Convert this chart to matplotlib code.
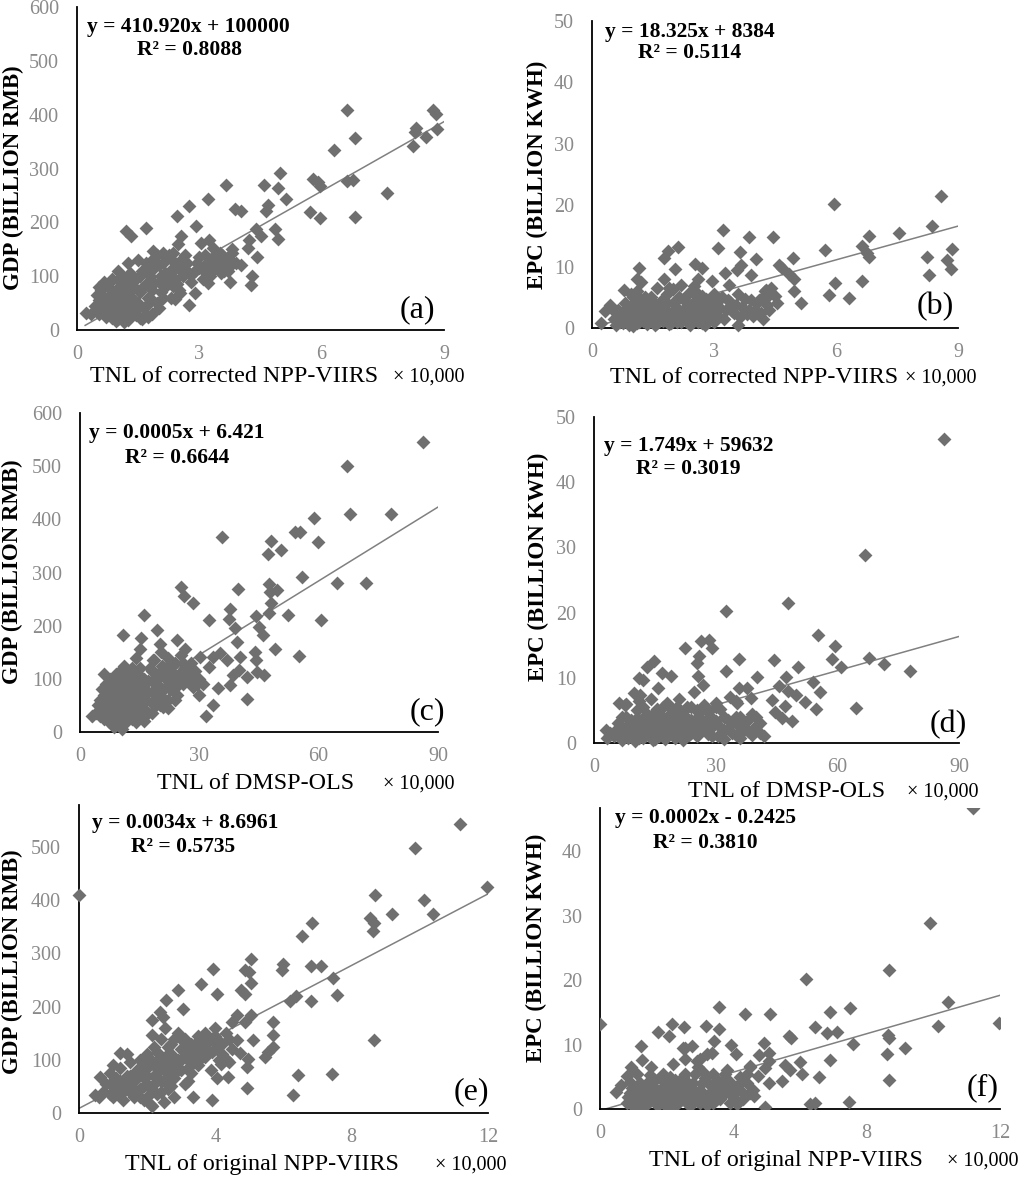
import matplotlib
matplotlib.use("Agg")
import matplotlib.pyplot as plt

W, H = 1024, 1177

plt.rcParams['font.family'] = ['Liberation Serif', 'DejaVu Serif']

# ---- data (x in units of 10,000) ----
a_pts = [(6.63, 409), (8.72, 409), (8.81, 401), (8.84, 374), (8.55, 359), (8.32, 376),
         (8.28, 367), (8.24, 342), (6.81, 356), (6.30, 334), (6.77, 278), (6.61, 277),
         (7.59, 254), (6.81, 210), (5.79, 280), (5.91, 274), (5.97, 267), (5.72, 220),
         (5.95, 208), (4.97, 291), (4.93, 263), (5.12, 243), (4.58, 269), (4.69, 233),
         (4.63, 221), (4.40, 187), (4.52, 174), (4.86, 187), (4.93, 169), (4.42, 136),
         (4.28, 100), (4.27, 84), (4.03, 121), (4.19, 152), (4.23, 168), (3.87, 224),
         (4.03, 221), (3.66, 270), (3.21, 243), (2.75, 231), (2.46, 211), (2.93, 194),
         (2.54, 175), (2.48, 159), (1.21, 183), (1.33, 175), (1.68, 190), (2.75, 47),
         (3.21, 87), (3.03, 162), (3.23, 168), (3.74, 90), (3.74, 118), (3.54, 106),
         (3.81, 143), (3.50, 143), (3.34, 131), (3.34, 152), (3.09, 112), (2.85, 106),
         (2.89, 68), (2.52, 68), (2.35, 81), (2.60, 115), (2.35, 143), (2.11, 143),
         (1.86, 146), (0.21, 31), (0.96, 16), (1.54, 22),
         (0.45, 45), (0.5, 65), (0.55, 55), (0.6, 35), (0.6, 75), (0.65, 90), (0.7, 25),
         (0.7, 50), (0.75, 85), (0.8, 40), (0.8, 65), (0.85, 95), (0.9, 30), (0.9, 55),
         (0.95, 75), (1.0, 20), (1.0, 45), (1.0, 110), (1.05, 60), (1.05, 90), (1.1, 35),
         (1.1, 100), (1.15, 15), (1.15, 70), (1.2, 50), (1.2, 85), (1.25, 25), (1.3, 40),
         (1.3, 105), (1.35, 60), (1.4, 80), (1.45, 30), (1.45, 95), (1.5, 50), (1.55, 70),
         (1.6, 20), (1.6, 110), (1.65, 40), (1.7, 85), (1.7, 125), (1.75, 60), (1.8, 100),
         (1.85, 30), (1.85, 75), (1.9, 115), (1.95, 50), (1.95, 140), (2.0, 90), (2.05, 70),
         (2.1, 125), (2.15, 105), (2.2, 85), (2.25, 140), (2.3, 60), (2.3, 110), (2.4, 95),
         (2.45, 120), (2.5, 75), (2.6, 100), (2.7, 125), (2.8, 90), (2.9, 110), (3.0, 135),
         (3.1, 95), (3.2, 125), (3.3, 110), (3.4, 140), (3.5, 120), (3.6, 130), (3.7, 110),
         (3.8, 150), (3.9, 125), (1.25, 125), (1.5, 130), (0.35, 30), (1.1, 75), (1.4, 55),
         (0.75, 60), (2.0, 40), (1.7, 45),
         (0.55, 30), (0.85, 22), (1.25, 18), (1.45, 28), (1.75, 25), (1.35, 45), (0.65, 60),
         (0.95, 48), (1.15, 52), (1.55, 45), (1.85, 55), (2.1, 60), (2.4, 58), (0.55, 80),
         (0.85, 72), (1.25, 68), (1.35, 82), (1.6, 78), (1.9, 88), (2.15, 80), (2.45, 85),
         (2.2, 95), (1.15, 95), (1.35, 92), (1.55, 100), (1.75, 108), (2.05, 100), (2.35, 115),
         (2.55, 110), (2.75, 105), (1.85, 130), (2.0, 120), (2.15, 135), (2.35, 128),
         (2.55, 130), (2.65, 140), (2.95, 125), (3.15, 140), (3.3, 130), (3.55, 140),
         (3.75, 130), (3.45, 120), (3.0, 115), (3.25, 100), (3.6, 110)]

b_pts = [(8.57, 21.5), (5.95, 20.2), (8.37, 16.6), (7.55, 15.5), (6.81, 15.0), (6.63, 13.3),
         (8.86, 12.8), (5.73, 12.7), (6.77, 12.2), (6.81, 11.6), (8.24, 11.5), (8.74, 11.0),
         (8.84, 9.6), (8.29, 8.6), (5.97, 7.4), (6.63, 7.6), (5.84, 5.4), (6.33, 4.9),
         (4.95, 11.4), (4.96, 7.9), (4.96, 6.0), (5.15, 4.0), (4.84, 8.8), (4.59, 10.3),
         (4.68, 9.8), (4.45, 14.8), (4.04, 11.2), (4.55, 4.0), (4.27, 6.2), (4.36, 5.4),
         (4.20, 1.5), (4.10, 4.6), (3.87, 14.8), (3.90, 8.7), (3.65, 12.3), (3.67, 10.3),
         (3.57, 9.5), (3.22, 15.9), (3.10, 13.0), (3.26, 8.9), (3.38, 7.0), (2.94, 7.6),
         (3.59, 0.5), (2.79, 0.5), (2.12, 13.2), (1.87, 12.5), (1.76, 11.4), (2.03, 9.6),
         (1.78, 7.9), (2.53, 10.5), (2.71, 9.8), (2.50, 6.8), (1.15, 9.8), (0.78, 6.2),
         (0.45, 3.8), (0.31, 2.7), (0.21, 0.8), (1.11, 7.9),
         (0.55, 1.5), (0.6, 0.5), (0.65, 3), (0.7, 2), (0.75, 0.8), (0.8, 4), (0.85, 1.2),
         (0.9, 2.5), (0.95, 5.5), (1.0, 0.3), (1.0, 3.5), (1.05, 1.8), (1.1, 6), (1.1, 0.8),
         (1.15, 2.8), (1.2, 4.5), (1.25, 1.2), (1.3, 3.2), (1.35, 0.6), (1.4, 2.2), (1.45, 5),
         (1.5, 1.5), (1.55, 3.8), (1.6, 0.8), (1.65, 2.6), (1.7, 4.4), (1.75, 1.2), (1.8, 3),
         (1.85, 5.6), (1.9, 0.6), (1.95, 2), (2.0, 4), (2.05, 1.5), (2.1, 3.2), (2.15, 5),
         (2.2, 0.9), (2.25, 2.4), (2.3, 4.2), (2.35, 1.4), (2.4, 3), (2.45, 6), (2.5, 2),
         (2.55, 4.5), (2.6, 1), (2.65, 3.5), (2.7, 5.2), (2.75, 2.2), (2.8, 3.8), (2.85, 1.2),
         (2.9, 4.8), (2.95, 2.8), (3.05, 4), (3.1, 2), (3.2, 5), (3.3, 3), (3.4, 4.2),
         (3.5, 2.5), (3.6, 5.5), (3.7, 3.5), (3.8, 2.2), (3.9, 4.5), (4.0, 3), (4.2, 5),
         (4.3, 3.8), (4.4, 6.5), (1.2, 7.5), (1.6, 6.5), (2.2, 7), (2.6, 8), (1.0, 5),
         (1.3, 2), (1.7, 2), (2.1, 1), (2.3, 2.8), (2.7, 0.8), (1.5, 4.2), (0.9, 1), (2.0, 6.3),
         (0.6, 2.5), (0.7, 1), (0.8, 3), (0.9, 0.5), (1.0, 2), (1.05, 4.2), (1.15, 1), (1.2, 3),
         (1.3, 5), (1.4, 1.5), (1.45, 3.5), (1.55, 0.5), (1.6, 2), (1.7, 3.2), (1.8, 1.5),
         (1.85, 4), (1.95, 0.8), (2.0, 2.8), (2.1, 4.5), (2.2, 1.8), (2.3, 3.5), (2.4, 0.5),
         (2.45, 2.2), (2.5, 4), (2.6, 5.5), (2.65, 2.5), (2.75, 1.5), (2.8, 4.8), (2.9, 2),
         (3.0, 1), (3.0, 5.5), (3.15, 3.2), (3.25, 1.5), (3.35, 4.5), (3.45, 2.8), (3.55, 3.8),
         (3.65, 1.8), (3.75, 4.8), (3.85, 3), (3.95, 2), (4.05, 4), (4.15, 2.5), (4.25, 6),
         (4.35, 3), (4.5, 5.2), (1.9, 6.5), (2.35, 5.5), (1.25, 4)]

c_pts = [(86.3, 546), (67.0, 501), (67.8, 410), (78.1, 410), (58.8, 402), (54.0, 377),
         (55.3, 377), (59.9, 357), (35.6, 366), (47.9, 360), (47.3, 335), (50.5, 342),
         (55.7, 291), (64.7, 281), (71.8, 280), (47.6, 278), (49.4, 268), (47.7, 264),
         (48.1, 243), (47.6, 223), (52.3, 221), (60.6, 210), (55.1, 143), (49.0, 157),
         (39.8, 269), (25.5, 272), (26.2, 256), (28.5, 242), (37.7, 232), (37.5, 212),
         (32.5, 210), (44.2, 218), (38.9, 195), (45.1, 197), (46.1, 182), (46.2, 107),
         (44.4, 113), (44.0, 151), (44.2, 135), (39.4, 170), (40.2, 141), (41.9, 104),
         (40.0, 116), (38.5, 107), (42.0, 63), (37.7, 88), (34.8, 82), (33.5, 50),
         (31.7, 31), (30.0, 69), (36.9, 135), (35.2, 148), (33.5, 141), (32.5, 122),
         (30.2, 141), (31.0, 91), (29.3, 91), (16.1, 221), (10.7, 182), (19.4, 192),
         (15.3, 176), (15.1, 157), (20.1, 166), (20.3, 151), (18.4, 135), (24.3, 173),
         (26.4, 157), (20.9, 47), (2.9, 31), (14.2, 19), (9.9, 14),
         (4, 35), (5, 60), (5.5, 80), (6, 25), (6.5, 45), (7, 70), (7.5, 100), (8, 30),
         (8, 55), (8.5, 85), (9, 110), (9, 20), (9.5, 65), (10, 40), (10, 95), (10.5, 75),
         (11, 15), (11, 55), (11.5, 105), (12, 35), (12, 80), (12.5, 60), (13, 120), (13, 25),
         (13.5, 90), (14, 45), (14, 70), (14.5, 110), (15, 30), (15, 85), (15.5, 60),
         (16, 100), (16.5, 40), (17, 75), (17.5, 120), (18, 55), (18, 95), (18.5, 135),
         (19, 70), (19.5, 110), (20, 85), (20.5, 125), (21, 60), (21.5, 100), (22, 140),
         (22.5, 80), (23, 115), (23.5, 95), (24, 130), (24.5, 70), (25, 110), (25.5, 145),
         (26, 90), (26.5, 120), (27, 100), (28, 130), (28.5, 85), (29, 115), (30, 100),
         (7, 90), (9, 45), (12, 100), (16, 20), (18, 35), (20, 50), (22, 45), (24, 60),
         (11, 125), (14, 140), (6, 110), (8.5, 10), (10.5, 5),
         (4.5, 50), (5, 30), (5.5, 45), (6, 70), (6.5, 90), (7, 20), (7, 50), (7.5, 35),
         (7.5, 80), (8, 70), (8.5, 45), (9, 95), (9.5, 30), (9.5, 80), (10, 60), (10, 115),
         (10.5, 25), (10.5, 90), (11, 40), (11, 75), (11.5, 60), (12, 50), (12, 115),
         (12.5, 90), (13, 40), (13, 70), (13.5, 105), (14, 55), (14, 90), (14.5, 30),
         (15, 70), (15, 120), (15.5, 45), (16, 80), (16.5, 60), (17, 95), (17, 35), (18, 75),
         (18, 115), (19, 50), (19, 90), (20, 70), (20, 105), (21, 80), (21, 120), (22, 60),
         (22, 100), (23, 85), (23, 130), (24, 105), (25, 90), (26, 130), (27, 115), (28, 100)]

d_pts = [(86.3, 46.7), (66.8, 28.9), (47.9, 21.5), (32.6, 20.2), (55.3, 16.6), (59.5, 14.9),
         (58.7, 12.9), (60.8, 11.7), (67.9, 13.1), (71.6, 12.1), (77.8, 11.0), (50.2, 11.6),
         (53.9, 9.4), (55.8, 7.8), (52.1, 6.3), (54.8, 5.2), (64.7, 5.4), (47.4, 10.1),
         (49.7, 7.4), (45.6, 8.8), (47.8, 7.9), (44.3, 12.7), (43.9, 6.6), (44.7, 4.8),
         (47.2, 5.6), (48.7, 3.3), (46.4, 3.8), (35.7, 12.9), (40.1, 10.1), (37.7, 8.5),
         (35.7, 8.4), (32.6, 11.1), (33.6, 7.1), (35.3, 6.1), (38.8, 6.9), (41.9, 1.0),
         (29.1, 14.5), (28.3, 15.8), (26.5, 15.6), (22.5, 14.6), (26.0, 13.3), (25.4, 12.2),
         (25.6, 10.3), (26.8, 8.9), (24.6, 7.8), (14.9, 12.6), (13.1, 11.7), (19.1, 10.2),
         (16.8, 10.7), (12.2, 9.7), (11.0, 9.9), (15.8, 8.4), (9.8, 7.7), (11.4, 7.4),
         (6.1, 6.1), (7.7, 5.9), (3.2, 0.8),
         (5, 1), (6, 3), (7, 0.5), (7.5, 2), (8, 4), (9, 1.2), (9.5, 2.8), (10, 0.3),
         (10.5, 5), (11, 1.8), (11.5, 3.5), (12, 0.8), (12.5, 2.4), (13, 4.5), (13.5, 1.2),
         (14, 3), (14.5, 0.4), (15, 2), (15.5, 5.2), (16, 1), (16.5, 3.4), (17, 2.2),
         (17.5, 0.6), (18, 4), (18.5, 1.6), (19, 2.8), (19.5, 5), (20, 0.8), (20.5, 3.2),
         (21, 1.8), (21.5, 4.4), (22, 0.5), (22.5, 2.5), (23, 3.8), (23.5, 1.2), (24, 5.5),
         (24.5, 2.2), (25, 3.6), (25.5, 1), (26, 4.6), (26.5, 2), (27, 3), (28, 1.4),
         (28.5, 4.2), (29, 2.4), (30, 3.4), (30.5, 1), (31, 5.2), (32, 2), (33, 3.5),
         (34, 1.5), (35, 4), (36, 2.5), (37, 3.2), (38, 1.8), (39, 4.5), (40, 2.6), (41, 1.5),
         (32, 0.6), (36, 0.8), (8, 6), (11, 6.5), (14, 6.8), (18, 6.2), (21, 6.8), (27, 5.8),
         (30, 6.2), (35, 6.5), (3, 2), (4, 1.5),
         (5.5, 2), (6.5, 1.5), (7, 4), (8, 2.5), (8.5, 0.8), (9, 3.5), (10, 2), (10.5, 3.8),
         (11, 0.8), (12, 3), (12, 5.5), (13, 2), (13.5, 3.5), (14, 1), (14.5, 4.5), (15, 0.6),
         (15.5, 3), (16, 4.5), (16.5, 1.6), (17, 5.5), (17.5, 3), (18, 1.2), (19, 4),
         (19.5, 1.5), (20, 2.2), (20.5, 5.5), (21, 3.5), (22, 1.5), (22, 4.2), (23, 2.5),
         (23, 5.5), (24, 1.5), (24, 3.5), (25, 2.5), (25.5, 5), (26, 1.5), (26.5, 3.5),
         (27.5, 2), (28, 4.8), (29, 1), (29.5, 3), (30, 5.5), (31, 2.5), (32, 4), (33, 2.2),
         (34, 3), (35, 1.2), (36, 4), (37, 2), (38, 3.5), (39, 1.2), (40, 4), (41, 3)]

e_pts = [(0.0, 409), (11.19, 544), (9.85, 499), (11.97, 425), (10.12, 401), (10.39, 375),
         (9.17, 375), (8.68, 409), (8.55, 367), (8.66, 357), (8.63, 342), (6.85, 357),
         (6.53, 333), (6.82, 276), (7.09, 276), (7.44, 254), (7.58, 222), (5.99, 281),
         (5.97, 268), (6.38, 220), (6.19, 210), (6.80, 210), (8.65, 137), (6.43, 71),
         (7.43, 74), (6.29, 33), (5.06, 290), (4.87, 269), (4.99, 265), (5.06, 244),
         (4.74, 232), (4.87, 223), (5.06, 185), (4.64, 184), (4.48, 171), (4.87, 172),
         (5.68, 171), (5.70, 146), (5.11, 138), (4.64, 138), (5.70, 124), (5.55, 115),
         (5.45, 105), (4.97, 102), (4.72, 112), (4.92, 86), (4.94, 47), (4.38, 68),
         (4.04, 65), (4.33, 100), (4.18, 93), (3.92, 271), (4.06, 223), (3.58, 242),
         (2.91, 232), (2.55, 212), (3.04, 195), (2.37, 190), (2.47, 180), (2.13, 174),
         (2.13, 146), (2.52, 159), (3.89, 24), (3.35, 31), (3.87, 80), (3.99, 159),
         (1.20, 113), (0.62, 68), (0.47, 33), (2.13, 14),
         (0.7, 40), (0.8, 55), (0.9, 75), (1.0, 30), (1.0, 50), (1.1, 65), (1.2, 40),
         (1.2, 85), (1.3, 25), (1.3, 55), (1.4, 70), (1.5, 40), (1.5, 95), (1.6, 30),
         (1.6, 60), (1.7, 80), (1.8, 45), (1.8, 100), (1.9, 25), (1.9, 65), (2.0, 85),
         (2.0, 110), (2.1, 45), (2.1, 15), (2.2, 70), (2.2, 125), (2.3, 35), (2.3, 95),
         (2.4, 60), (2.4, 140), (2.5, 80), (2.5, 20), (2.6, 110), (2.6, 45), (2.7, 90),
         (2.7, 130), (2.8, 65), (2.8, 30), (2.9, 100), (2.9, 150), (3.0, 80), (3.0, 120),
         (3.1, 55), (3.1, 140), (3.2, 100), (3.3, 130), (3.3, 75), (3.4, 115), (3.5, 145),
         (3.5, 90), (3.6, 125), (3.7, 105), (3.7, 150), (3.8, 135), (3.9, 115), (4.0, 145),
         (4.1, 100), (4.2, 130), (4.3, 150), (4.4, 95), (4.5, 120), (1.0, 90), (1.4, 110),
         (0.6, 30), (2.4, 105), (3.2, 60), (2.0, 55), (1.7, 40),
         (0.9, 35), (1.0, 60), (1.1, 45), (1.2, 60), (1.3, 40), (1.4, 55), (1.5, 70),
         (1.6, 45), (1.7, 65), (1.8, 30), (1.8, 75), (1.9, 50), (1.9, 90), (2.0, 70),
         (2.1, 100), (2.2, 55), (2.2, 90), (2.3, 75), (2.3, 115), (2.4, 85), (2.5, 100),
         (2.5, 60), (2.6, 80), (2.6, 125), (2.7, 70), (2.7, 110), (2.8, 95), (2.8, 140),
         (2.9, 80), (3.0, 100), (3.0, 140), (3.1, 115), (3.2, 130), (3.2, 85), (3.3, 110),
         (3.4, 130), (3.4, 95), (3.5, 120), (3.6, 140), (3.6, 105), (3.7, 125), (3.8, 115),
         (3.9, 140), (4.0, 120), (4.1, 135), (4.2, 110), (4.4, 140), (2.0, 30), (2.4, 40),
         (2.7, 50)]

f_pts = [(0.0, 13.2), (11.2, 46.7), (9.9, 28.9), (8.67, 21.6), (6.19, 20.2), (10.43, 16.6),
         (11.97, 13.3), (10.15, 12.9), (7.49, 15.6), (6.91, 15.0), (7.11, 12.0), (6.81, 11.8),
         (6.44, 12.7), (7.60, 10.1), (8.63, 11.5), (8.68, 11.0), (9.15, 9.5), (8.60, 8.6),
         (8.67, 4.5), (6.91, 7.6), (6.56, 5.0), (6.01, 7.3), (6.06, 5.5), (6.46, 0.9),
         (6.31, 0.7), (7.46, 1.1), (5.66, 11.3), (5.74, 11.0), (5.54, 6.9), (5.71, 6.1),
         (5.46, 4.4), (5.11, 14.8), (4.34, 14.8), (4.91, 10.2), (5.06, 8.7), (5.06, 7.4),
         (4.96, 6.4), (4.96, 0.3), (4.74, 5.1), (5.06, 4.0), (4.76, 8.4), (4.51, 6.6),
         (4.61, 2.0), (3.58, 15.8), (3.58, 12.4), (3.19, 12.9), (3.41, 10.6), (3.94, 10.0),
         (4.07, 8.5), (3.36, 8.7), (3.01, 7.8), (2.51, 12.7), (2.15, 13.2), (2.07, 11.3),
         (1.75, 11.9), (2.56, 9.5), (2.76, 9.7), (2.56, 7.8), (1.22, 9.8), (1.27, 7.6),
         (1.52, 6.5), (0.92, 6.5), (0.82, 5.1), (0.62, 3.8), (0.47, 2.7),
         (0.8, 1), (0.9, 2.5), (1.0, 0.5), (1.05, 2), (1.1, 3.5), (1.2, 1), (1.25, 2.8),
         (1.3, 0.3), (1.4, 2), (1.45, 4.2), (1.5, 1.2), (1.6, 3), (1.7, 0.6), (1.75, 2.2),
         (1.8, 4.8), (1.9, 1.5), (1.95, 3.5), (2.0, 0.3), (2.05, 2.5), (2.1, 5), (2.15, 1.2),
         (2.2, 3.2), (2.3, 0.8), (2.35, 2), (2.4, 4.2), (2.5, 1.5), (2.55, 5.5), (2.6, 3),
         (2.7, 0.5), (2.75, 2.2), (2.8, 4), (2.9, 1.2), (2.95, 6.5), (3.0, 3), (3.1, 1.8),
         (3.15, 4.8), (3.2, 0.6), (3.3, 2.5), (3.4, 5.5), (3.5, 1.5), (3.6, 3.8), (3.7, 2.2),
         (3.8, 6), (3.9, 1), (4.0, 3.5), (4.1, 0.8), (4.2, 5), (4.3, 2.5), (4.4, 4),
         (4.5, 6.5), (4.6, 3), (2.2, 7), (2.5, 9.5), (2.9, 7.5), (3.2, 8.5), (1.9, 5.5),
         (1.1, 5.5), (1.5, 5.2), (0.9, 4.2), (2.6, 1), (1.35, 1.6), (3.7, 4.5),
         (0.85, 1.8), (0.95, 3.2), (1.0, 1.2), (1.1, 2.5), (1.15, 0.5), (1.2, 4), (1.3, 1.8),
         (1.35, 3.2), (1.4, 0.8), (1.5, 2.5), (1.55, 3.8), (1.6, 1.5), (1.65, 4.5), (1.7, 2.8),
         (1.8, 1), (1.85, 3.2), (1.9, 2.2), (2.0, 1.5), (2.0, 4), (2.1, 2.8), (2.2, 0.6),
         (2.25, 4.5), (2.3, 2.2), (2.4, 1.2), (2.45, 3.2), (2.5, 5), (2.6, 2), (2.65, 4),
         (2.7, 1.5), (2.8, 3), (2.85, 5.5), (2.9, 2.2), (3.0, 1), (3.05, 4), (3.1, 5.8),
         (3.2, 2), (3.3, 3.8), (3.4, 1), (3.45, 3), (3.5, 4.5), (3.6, 1.5), (3.65, 2.8),
         (3.75, 5.5), (3.8, 3), (3.9, 4.2), (4.0, 1.8), (4.1, 3), (4.2, 4), (4.3, 1.5),
         (4.4, 5.5), (4.5, 2.5)]

# linear trendlines: slope, intercept, x start, x end
trend_a = (43.0, 0.0, 0.2, 9.0)
trend_b = (1.8325, 0.1, 0.2, 9.0)
trend_c = (4.63, 6.4, 2.9, 90.0)
trend_d = (0.1749, 0.596, 2.5, 90.0)
trend_e = (33.6, 8.7, 0.0, 12.0)
trend_f = (1.49, -0.24, 0.16, 12.0)

eq_texts = ["y = 410.920x + 100000", "y = 18.325x + 8384", "y = 0.0005x + 6.421",
            "y = 1.749x + 59632", "y = 0.0034x + 8.6961", "y = 0.0002x - 0.2425"]
r2_texts = ["R² = 0.8088", "R² = 0.5114", "R² = 0.6644",
            "R² = 0.3019", "R² = 0.5735", "R² = 0.3810"]
x_titles = ["TNL of corrected NPP-VIIRS", "TNL of corrected NPP-VIIRS", "TNL of DMSP-OLS",
            "TNL of DMSP-OLS", "TNL of original NPP-VIIRS", "TNL of original NPP-VIIRS"]
y_titles = ["GDP (BILLION RMB)", "EPC (BILLION KWH)"] * 3
tags = ["(a)", "(b)", "(c)", "(d)", "(e)", "(f)"]

xticks_list = [[0, 3, 6, 9]] * 2 + [[0, 30, 60, 90]] * 2 + [[0, 4, 8, 12]] * 2
yticks_list = [[0, 100, 200, 300, 400, 500, 600], [0, 10, 20, 30, 40, 50],
               [0, 100, 200, 300, 400, 500, 600], [0, 10, 20, 30, 40, 50],
               [0, 100, 200, 300, 400, 500], [0, 10, 20, 30, 40]]
xlims = [(0, 9), (0, 9), (0, 90), (0, 90), (0, 12), (0, 12)]
ylims = [(0, 600), (0, 50), (0, 600), (0, 50), (0, 579), (0, 46.7)]

# layout in pixels
boxes = [(77, 7, 444, 330), (592, 21, 958, 328), (80, 413, 438, 732),
         (594, 417, 959, 743), (79, 805, 488, 1113), (600, 808, 1000, 1109)]
eq_pos = [(87, 27, 137, 50), (605, 32, 638, 53), (89, 433, 125, 458),
          (604, 446, 636, 469), (92, 823, 131, 847), (615, 818, 653, 843)]
xlab_pos = [(90, 393, 382), (610, 905, 383), (157, 383, 789),
            (688, 907, 797), (125, 435, 1170), (649, 947, 1166)]
ylab_pos = [(13, 178), (537, 175), (12, 572), (538, 567), (12, 962), (536, 948)]
tag_pos = [(435, 310), (954, 307), (445, 712), (967, 725), (489, 1092), (999, 1088)]

MARK = '#6f6f6f'
TICK = '#8a8a8a'
LINE = '#808080'


def fx(px):
    return px / W


def fy(py):
    return 1 - py / H


fig = plt.figure(figsize=(W / 100, H / 100), dpi=100)

all_pts = [a_pts, b_pts, c_pts, d_pts, e_pts, f_pts]
trends = [trend_a, trend_b, trend_c, trend_d, trend_e, trend_f]

for i in range(6):
    x0, y0, x1, y1 = boxes[i]
    ax = fig.add_axes([fx(x0), fy(y1), (x1 - x0) / W, (y1 - y0) / H])
    xs = [p[0] for p in all_pts[i]]
    ys = [p[1] for p in all_pts[i]]
    ax.scatter(xs, ys, marker='D', s=50, color=MARK, linewidths=0,
               clip_on=(i == 5), zorder=3)
    m, b, t0, t1 = trends[i]
    ax.plot([t0, t1], [m * t0 + b, m * t1 + b], color=LINE, lw=1.1, zorder=2)

    ax.set_xlim(*xlims[i])
    ax.set_ylim(*ylims[i])
    ax.set_xticks(xticks_list[i])
    ax.set_yticks(yticks_list[i])
    ax.tick_params(axis='y', length=0, pad=13, labelsize=14.5, labelcolor=TICK)
    ax.tick_params(axis='x', length=0, pad=11, labelsize=14.5, labelcolor=TICK)
    for side in ['top', 'right']:
        ax.spines[side].set_visible(False)
    for side in ['left', 'bottom']:
        ax.spines[side].set_linewidth(1.3)
        ax.spines[side].set_color('black')
    ax.patch.set_alpha(0)

    ex, ey, rx, ry = eq_pos[i]
    fig.text(fx(ex), fy(ey), eq_texts[i], fontsize=15.5, fontweight='bold', va='center')
    fig.text(fx(rx), fy(ry), r2_texts[i], fontsize=15.5, fontweight='bold', va='center')

    lx, mx, by = xlab_pos[i]
    fig.text(fx(lx), fy(by), x_titles[i], fontsize=17.3, va='baseline')
    fig.text(fx(mx), fy(by), "× 10,000", fontsize=14.5, va='baseline')

    yx, yy = ylab_pos[i]
    fig.text(fx(yx), fy(yy), y_titles[i], fontsize=16.5, fontweight='bold',
             rotation=90, ha='center', va='center')

    tx, ty = tag_pos[i]
    fig.text(fx(tx), fy(ty), tags[i], fontsize=23, ha='right', va='center')

fig.savefig('out.png', dpi=100)
